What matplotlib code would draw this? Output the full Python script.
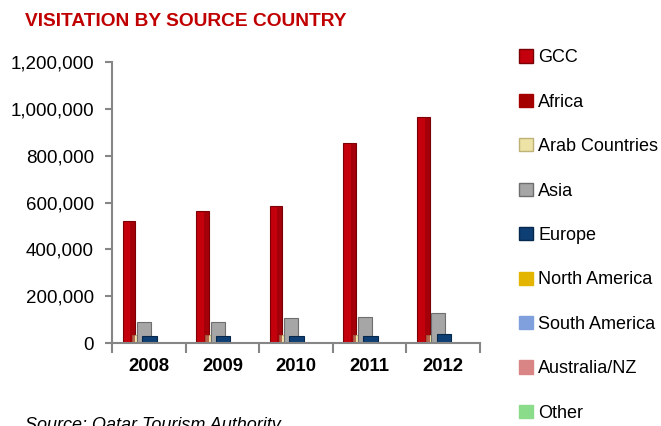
import numpy as np
import matplotlib.pyplot as plt
from matplotlib.patches import Patch

plt.rcParams['font.family'] = ['Liberation Sans', 'DejaVu Sans']

years = ['2008', '2009', '2010', '2011', '2012']
series = ['GCC', 'Africa', 'Arab Countries', 'Asia', 'Europe',
          'North America', 'South America', 'Australia/NZ', 'Other']
gcc = [520000, 562000, 587000, 855000, 966000]
africa = [0, 0, 0, 0, 0]
arab = [35000, 35000, 35000, 35000, 35000]
asia = [88000, 88000, 107000, 113000, 128000]
europe = [28000, 28000, 28000, 28000, 38000]
north_america = [0, 0, 0, 0, 0]
south_america = [0, 0, 0, 0, 0]
australia = [0, 0, 0, 0, 0]
other = [0, 0, 0, 0, 0]

colors = ['#C4000C', '#A50000', '#EDE3A6', '#A6A6A6', '#0E3F74',
          '#E3B400', '#7F9FDD', '#D98585', '#8ADB8A']
edges = ['#7A0005', '#A50000', '#BFB276', '#6E6E6E', '#06284D',
         '#E3B400', '#7F9FDD', '#D98585', '#8ADB8A']

fig = plt.figure(figsize=(6.61, 4.26), dpi=100)
ax = fig.add_axes([112 / 661, 1 - 343 / 426, (480 - 112) / 661, (343 - 62) / 426])

x = np.arange(len(years))
# (values, offset, width, colour index), drawn back to front
layout = [
    (gcc, -0.27, 0.17, 0),
    (arab, -0.19, 0.08, 2),
    (asia, -0.065, 0.19, 3),
    (europe, 0.01, 0.2, 4),
]
for vals, off, w, ci in layout:
    ax.bar(x + off, vals, width=w, color=colors[ci], edgecolor=edges[ci],
           linewidth=0.8, zorder=2)
    if ci == 0:
        # darker right side of the red columns
        ax.bar(x + off + w * 0.3, vals, width=w * 0.4, color='#8A0008',
               linewidth=0, zorder=2.5, alpha=0.55)

ax.set_xlim(-0.5, 4.5)
ax.set_ylim(0, 1200000)
ax.set_yticks(np.arange(0, 1200001, 200000))
ax.set_yticklabels([f'{v:,}' for v in range(0, 1200001, 200000)], fontsize=13.5)
ax.set_xticks(np.arange(-0.5, 5, 1))
ax.set_xticklabels([])
ax.tick_params(axis='y', length=5, width=1.5, color='#868686', pad=8)
ax.tick_params(axis='x', length=7, width=1.5, color='#868686')
for i, y in enumerate(years):
    ax.text(i, -0.085, y, transform=ax.get_xaxis_transform(), ha='center',
            va='center', fontsize=13.3, fontweight='bold')
for s in ['top', 'right']:
    ax.spines[s].set_visible(False)
for s in ['left', 'bottom']:
    ax.spines[s].set_color('#868686')
    ax.spines[s].set_linewidth(1.5)

handles = [Patch(facecolor=colors[i], edgecolor=edges[i] if i in (0, 2, 3, 4) else colors[i])
           for i in range(len(series))]
fig.legend(handles, series, loc='upper left', bbox_to_anchor=(512 / 661, 1 - 42 / 426),
           frameon=False, fontsize=13, handlelength=0.75, handleheight=0.75,
           handletextpad=0.3, labelspacing=1.52, borderaxespad=0)

fig.text(25 / 661, 1 - 22 / 426, 'VISITATION BY SOURCE COUNTRY', color='#C00000',
         fontsize=13.8, fontweight='bold', va='center', ha='left')
fig.text(25 / 661, 1 - 417 / 426, 'Source: Qatar Tourism Authority', fontsize=13,
         style='italic', va='top', ha='left')

fig.savefig('out.png', dpi=100)
